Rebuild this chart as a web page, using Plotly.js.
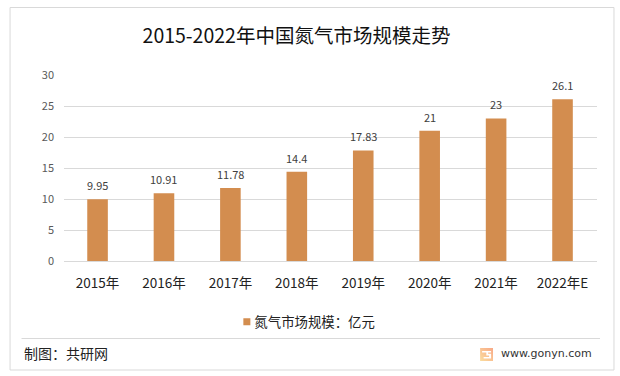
<!DOCTYPE html>
<html><head><meta charset="utf-8">
<script src="https://cdn.plot.ly/plotly-3.0.1.min.js"></script>
<style>html,body{margin:0;padding:0;background:#fff}#c{width:620px;height:376px}</style>
</head><body><div id="c"></div>
<script>
const categories=["2015年","2016年","2017年","2018年","2019年","2020年","2021年","2022年E"];
const values=[9.95,10.91,11.78,14.4,17.83,21,23,26.1];
const valueLabels=["9.95","10.91","11.78","14.4","17.83","21","23","26.1"];
const tickValues=[0,5,10,15,20,25,30];
const seriesName="氮气市场规模：亿元";
const titleText="2015-2022年中国氮气市场规模走势";
const W=620,H=376;
const F='"Noto Sans CJK SC","Noto Sans",sans-serif';
const L=63.5,R=597,T=75,B=261;
const fx=v=>(v-L)/(R-L), fy=v=>(B-v)/(B-T);
const logo='data:image/svg+xml,'+encodeURIComponent('<svg xmlns="http://www.w3.org/2000/svg" width="13" height="13"><defs><linearGradient id="g" x1="0" y1="1" x2="1" y2="0"><stop offset="0" stop-color="#FBDD9E"/><stop offset="1" stop-color="#F8A886"/></linearGradient></defs><rect width="13" height="13" fill="url(#g)"/><path d="M2 3H11V4.6H8V5.8H11V10.5H3.5V8.9H9V7.4H6.2V4.6H2Z" fill="#fff"/></svg>');
const valueAnnotations=categories.map((c,i)=>({text:valueLabels[i],x:i,y:values[i],xref:'x',yref:'y',xanchor:'center',yanchor:'bottom',yshift:4,showarrow:false,font:{family:F,size:11,color:'#404040'}}));
Plotly.newPlot('c',[{
  type:'bar',x:categories,y:values,name:seriesName,
  marker:{color:'#D38D4F'},width:0.31,hoverinfo:'x+y'
}],{
  width:W,height:H,paper_bgcolor:'#fff',plot_bgcolor:'#fff',
  margin:{l:L,r:W-R,t:T,b:H-B,pad:0},
  showlegend:true,
  legend:{orientation:'h',x:fx(214),xanchor:'left',y:fy(322),yanchor:'middle',font:{family:F,size:13.4,color:'#222'},bgcolor:'rgba(0,0,0,0)'},
  title:{text:titleText,x:296.5/W,xanchor:'center',y:1-36/H,yanchor:'middle',font:{family:F,size:19.5,color:'#111'}},
  xaxis:{type:'category',range:[-0.505,7.519],tickfont:{family:F,size:13.5,color:'#222'},ticks:'',showline:true,linecolor:'#D9D9D9',linewidth:1,showgrid:false,automargin:false,ticklabelstandoff:10},
  yaxis:{range:[0,30],tickvals:tickValues,tickfont:{family:F,size:11,color:'#595959'},ticks:'',gridcolor:'#D9D9D9',gridwidth:1,zeroline:false,automargin:false,ticklabelstandoff:9},
  shapes:[
    {type:'rect',xref:'paper',yref:'paper',x0:fx(9.5),x1:fx(614),y0:fy(370),y1:fy(7.5),line:{color:'#D9D9D9',width:1},fillcolor:'rgba(0,0,0,0)',layer:'below'},
    {type:'line',xref:'paper',yref:'paper',x0:fx(21),x1:fx(600),y0:fy(338.5),y1:fy(338.5),line:{color:'#D9D9D9',width:1}}
  ],
  images:[{source:logo,xref:'paper',yref:'paper',x:fx(480),y:fy(348),sizex:13/(R-L),sizey:13/(B-T),xanchor:'left',yanchor:'top',sizing:'stretch',layer:'above'}],
  annotations:valueAnnotations.concat([
    {text:'制图：共研网',xref:'paper',yref:'paper',x:fx(21.5),xanchor:'left',y:fy(353),yanchor:'middle',showarrow:false,font:{family:F,size:14,color:'#222'}},
    {text:'www.gonyn.com',xref:'paper',yref:'paper',x:fx(498.5),xanchor:'left',y:fy(353),yanchor:'middle',showarrow:false,font:{family:'"DejaVu Sans",sans-serif',size:11,color:'#333'}}
  ])
},{displayModeBar:false,responsive:false}).then(()=>{
  // Excel-style compact legend key: small square close to the text
  document.querySelectorAll('#c .legend .legendpoints path').forEach(p=>{
    p.setAttribute('d','M3.5,3.5H-3.5V-3.5H3.5Z');
    p.setAttribute('transform','translate(32.5,0)');
  });
});
</script></body></html>
